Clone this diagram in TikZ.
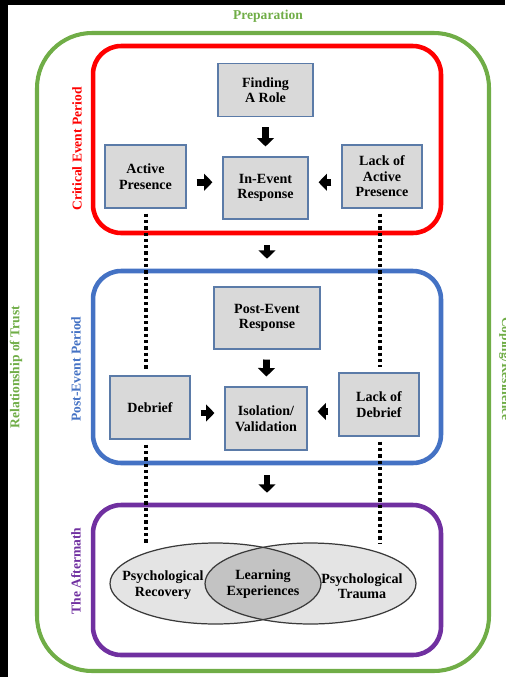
\documentclass[tikz,border=0pt]{standalone}
\usepackage{fontspec}
\setmainfont{Liberation Serif}
\usetikzlibrary{arrows.meta,calc}

\definecolor{prepgreen}{HTML}{70AD47}
\definecolor{critred}{HTML}{FF0000}
\definecolor{postblue}{HTML}{4472C4}
\definecolor{afterpurple}{HTML}{7030A0}
\definecolor{boxfill}{HTML}{D9D9D9}
\definecolor{boxedge}{HTML}{5B7BA8}
\definecolor{ovalfill}{HTML}{E4E4E4}
\definecolor{lensfill}{HTML}{C3C3C3}
\definecolor{ovaledge}{HTML}{3A3A3A}

\newcommand{\stagefont}{\fontsize{8}{8.8}\selectfont\bfseries}
\newcommand{\labelfont}{\fontsize{7.7}{8}\selectfont\bfseries}

\begin{document}
\begin{tikzpicture}[x=0.02cm, y=-0.02cm,
    stagebox/.style={draw=boxedge, fill=boxfill, line width=0.6pt, align=center, font=\stagefont, inner sep=1pt},
    framebox/.style={draw=#1, line width=2.6pt, rounded corners=0.56cm, minimum width=6.96cm},
    blockarrow/.style={line width=3.8pt, -{Triangle[width=9.5pt,length=4.8pt]}, shorten <=0.2cm, shorten >=0.2cm},
    linkdots/.style={line width=2.1pt, dash pattern=on 1.9pt off 1.7pt, shorten <=0.1cm, shorten >=0.1cm},
    sidelabel/.style={text=#1, font=\labelfont}]
    % 画布大小与黑边
    \useasboundingbox (0,0) rectangle (505,677);
    \fill[black] (0,0) rectangle (8,677);
    \fill[black] (0,0) rectangle (505,5);

    % 最外层：准备阶段
    \draw[prepgreen, line width=2.3pt, rounded corners=1.1cm] (37,33) rectangle (489,671);
    \node[sidelabel=prepgreen] (preplabel) at (268,16.5) {Preparation};
    \node[sidelabel=prepgreen, rotate=90] (trustlabel) at (16,367) {Relationship of Trust};
    \node[sidelabel=prepgreen, rotate=-90, anchor=base] (copelabel) at (502,369) {Coping/Resilience};

    % 三个阶段框
    \node[framebox=critred, minimum height=3.74cm] (crit) at (267,139.5) {};
    \node[framebox=postblue, minimum height=3.84cm] (post) at (267,367) {};
    \node[framebox=afterpurple, minimum height=3cm] (after) at (267,580) {};
    \node[sidelabel=critred, rotate=90] (critlabel) at (77,149) {Critical Event Period};
    \node[sidelabel=postblue, rotate=90] (postlabel) at (76,369) {Post-Event Period};
    \node[sidelabel=afterpurple, rotate=90] (afterlabel) at (76,571) {The Aftermath};

    % 危机事件期
    \node[stagebox, minimum width=1.9cm, minimum height=1.06cm] (role) at (265.5,90) {Finding\\A Role};
    \node[stagebox, minimum width=1.62cm, minimum height=1.26cm] (active) at (145.5,176.5) {Active\\Presence};
    \node[stagebox, minimum width=1.7cm, minimum height=1.24cm] (inevent) at (265.5,188) {In-Event\\Response};
    \node[stagebox, minimum width=1.6cm, minimum height=1.26cm] (lackactive) at (382,176.5) {Lack of\\Active\\Presence};

    % 事件后期
    \node[stagebox, minimum width=2.12cm, minimum height=1.24cm] (postresp) at (267,318) {Post-Event\\Response};
    \node[stagebox, minimum width=1.6cm, minimum height=1.26cm] (debrief) at (150,407.5) {Debrief};
    \node[stagebox, minimum width=1.64cm, minimum height=1.26cm] (isolation) at (266,418.5) {Isolation/\\Validation};
    \node[stagebox, minimum width=1.6cm, minimum height=1.26cm] (lackdebrief) at (379,404.5) {Lack of\\Debrief};

    % 粗箭头
    \draw[blockarrow] (role) -- (inevent);
    \path ($(active.east)!0.5!(inevent.west)$) coordinate (ap);
    \draw[blockarrow] (active.east |- ap) -- (inevent.west |- ap);
    \path ($(lackactive.west)!0.5!(inevent.east)$) coordinate (lp);
    \draw[blockarrow] (lackactive.west |- lp) -- (inevent.east |- lp);
    \draw[blockarrow] (crit) -- (post);
    \draw[blockarrow] (postresp) -- (isolation);
    \path ($(debrief.east)!0.5!(isolation.west)$) coordinate (dp);
    \draw[blockarrow] (debrief.east |- dp) -- (isolation.west |- dp);
    \path ($(lackdebrief.west)!0.5!(isolation.east)$) coordinate (ldp);
    \draw[blockarrow] (lackdebrief.west |- ldp) -- (isolation.east |- ldp);
    \draw[blockarrow] (post) -- (after);

    % 后果：两个椭圆及其交集
    \fill[ovalfill] (215.5,583.5) ellipse [x radius=2.11cm, y radius=0.81cm];
    \fill[ovalfill] (310.5,583.5) ellipse [x radius=2.11cm, y radius=0.81cm];
    \begin{scope}
        \clip (215.5,583.5) ellipse [x radius=2.11cm, y radius=0.81cm];
        \fill[lensfill] (310.5,583.5) ellipse [x radius=2.11cm, y radius=0.81cm];
    \end{scope}
    \draw[ovaledge, line width=0.7pt] (215.5,583.5) ellipse [x radius=2.11cm, y radius=0.81cm];
    \draw[ovaledge, line width=0.7pt] (310.5,583.5) ellipse [x radius=2.11cm, y radius=0.81cm];
    \node[font=\stagefont, align=center] (recovery) at (163,585) {Psychological\\Recovery};
    \node[font=\stagefont, align=center] (learning) at (263,584) {Learning\\Experiences};
    \node[font=\stagefont, align=center] (trauma) at (362,586) {Psychological\\Trauma};

    % 虚线连接
    \coordinate (recovtop) at (146,548);
    \coordinate (traumatop) at (380,548);
    \draw[linkdots] (active.south -| recovtop) -- (debrief.north -| recovtop);
    \draw[linkdots] (debrief.south -| recovtop) -- (recovtop);
    \draw[linkdots] (lackactive.south -| traumatop) -- (lackdebrief.north -| traumatop);
    \draw[linkdots] (lackdebrief.south -| traumatop) -- (traumatop);
\end{tikzpicture}
\end{document}
